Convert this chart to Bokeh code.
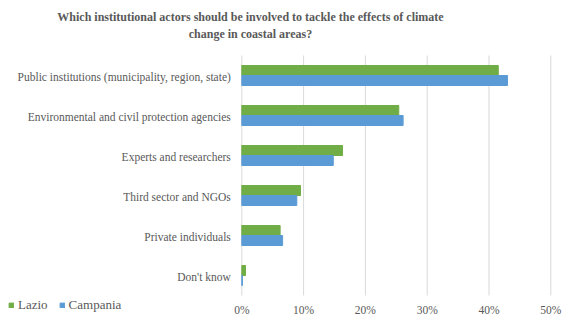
from bokeh.plotting import figure
from bokeh.models import (Range1d, ColumnDataSource, Legend, LegendItem, Label)
from bokeh.core.properties import value
from bokeh.transform import dodge
from bokeh.embed import file_html
from bokeh.resources import INLINE

categories = ["Public institutions (municipality, region, state)",
              "Environmental and civil protection agencies",
              "Experts and researchers",
              "Third sector and NGOs",
              "Private individuals",
              "Don't know"]
lazio = [0.415, 0.254, 0.163, 0.095, 0.062, 0.006]
campania = [0.430, 0.261, 0.148, 0.089, 0.066, 0.001]
x_ticks = [0, 0.1, 0.2, 0.3, 0.4, 0.5]
tick_labels = ["0%", "10%", "20%", "30%", "40%", "50%"]
title_lines = ["Which institutional actors should be involved to tackle the effects of climate",
               "change in coastal areas?"]

FONT = "Liberation Serif"
GREY = "#595959"
W, H = 565, 317

n = len(categories)
pos = list(range(n))[::-1]          # first category at the top
src = ColumnDataSource(dict(cat=categories, pos=pos, lazio=lazio, campania=campania,
                            base=[0] * n))
ticks = ColumnDataSource(dict(x=x_ticks, label=tick_labels,
                              y0=[-0.5] * len(x_ticks), y1=[n - 0.5] * len(x_ticks)))

# the frame covers the whole canvas so that every text and the legend stay inside it
p = figure(width=W, height=H, output_backend="svg", toolbar_location=None,
           x_range=Range1d(-0.3905, 0.5238), y_range=Range1d(-1.05, 6.875),
           min_border=0)
p.outline_line_color = None
p.xaxis.visible = False
p.yaxis.visible = False
p.xgrid.grid_line_color = None
p.ygrid.grid_line_color = None

# vertical grid lines at the tick values, spanning the category bands
p.segment(x0="x", x1="x", y0="y0", y1="y1", source=ticks,
          line_color="#D9D9D9", line_width=1)

r1 = p.hbar(y=dodge("pos", 0.125), right="lazio", height=0.25,
            source=src, fill_color="#70AD47", line_color="#70AD47")
r2 = p.hbar(y=dodge("pos", -0.125), right="campania", height=0.25,
            source=src, fill_color="#5B9BD5", line_color="#5B9BD5")

# category labels (left of 0%) and x tick labels (below the bands)
p.text(x="base", y="pos", text="cat", source=src, x_offset=-11, y_offset=1,
       text_align="right", text_baseline="middle", text_font=value(FONT),
       text_font_size="11.5px", text_color=GREY)
p.text(x="x", y="y0", text="label", source=ticks, y_offset=14,
       text_align="center", text_baseline="middle", text_font=value(FONT),
       text_font_size="11.5px", text_color=GREY)

legend = Legend(items=[LegendItem(label="Lazio", renderers=[r1]),
                       LegendItem(label="Campania", renderers=[r2])],
                orientation="horizontal", location=(8, 4),
                glyph_width=6, glyph_height=6, label_height=14, label_standoff=4,
                spacing=11, padding=0, margin=0, border_line_color=None,
                background_fill_alpha=0,
                label_text_font=FONT, label_text_color=GREY,
                label_text_font_size="13px")
p.add_layout(legend, "center")

for line, y in ((title_lines[0], H - 16), (title_lines[1], H - 33)):
    p.add_layout(Label(x=250, y=y, x_units="screen", y_units="screen", text=line,
                       text_align="center", text_baseline="middle", text_font=FONT,
                       text_font_style="bold", text_font_size="12px",
                       text_color=GREY))

open("out.html", "w").write(file_html(p, INLINE))
